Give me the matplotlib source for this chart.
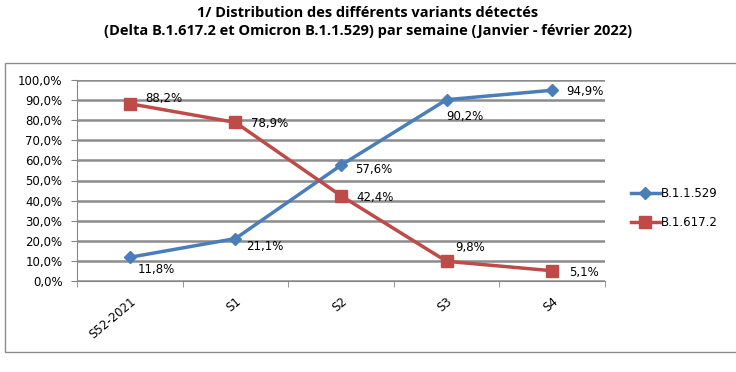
import numpy as np
import matplotlib
matplotlib.use("Agg")
import matplotlib.pyplot as plt
from matplotlib.patches import Rectangle

# Données
semaines = ["S52-2021", "S1", "S2", "S3", "S4"]
omicron = [11.8, 21.1, 57.6, 90.2, 94.9]
delta = [88.2, 78.9, 42.4, 9.8, 5.1]
nom_omicron = "B.1.1.529"
nom_delta = "B.1.617.2"
titre = ("1/ Distribution des différents variants détectés\n"
         "(Delta B.1.617.2 et Omicron B.1.1.529) par semaine (Janvier - février 2022)")

bleu = "#4a7ebb"
rouge = "#be4b48"

fig = plt.figure(figsize=(7.36, 3.72), dpi=100)
ax = fig.add_axes([77 / 736, 1 - 281 / 372, 528 / 736, 201 / 372])

x = np.arange(len(semaines))
ax.plot(x, omicron, color=bleu, lw=2.5, marker="D", ms=6.5, label=nom_omicron, zorder=3)
ax.plot(x, delta, color=rouge, lw=2.5, marker="s", ms=8.5, label=nom_delta, zorder=3)

ax.set_xlim(-0.5, len(semaines) - 0.5)
ax.set_ylim(0, 100)
ax.set_yticks(np.arange(0, 101, 10))
ax.set_yticklabels([f"{v:.1f}%".replace(".", ",") for v in np.arange(0, 101, 10)],
                   fontsize=8.5)
ax.set_xticks(x)
ax.set_xticklabels(semaines, rotation=40, ha="right", rotation_mode="anchor", fontsize=8.5)
ax.set_xticks(np.arange(-0.5, len(semaines)), minor=True)
ax.tick_params(axis="x", which="major", length=0, pad=10)
ax.tick_params(axis="x", which="minor", length=4.5, color="#868686")
ax.tick_params(axis="y", length=4.5, color="#868686", pad=6)

ax.grid(axis="y", color="#8c8c8c", lw=1.8)
ax.set_axisbelow(True)
for side in ["top", "right"]:
    ax.spines[side].set_visible(False)
for side in ["left", "bottom"]:
    ax.spines[side].set_color("#868686")

def fmt(v):
    return f"{v:.1f}%".replace(".", ",")

# étiquettes des points
decal_omicron = [(6, -9), (8, -6), (10, -3), (0, -12), (10, -1)]
decal_delta = [(11, 4), (11, -1), (11, -1), (6, 10), (12, -1)]
for i, (v, d) in enumerate(zip(omicron, decal_omicron)):
    ax.annotate(fmt(v), (x[i], v), xytext=d, textcoords="offset points",
                fontsize=8.5, ha="left", va="center")
for i, (v, d) in enumerate(zip(delta, decal_delta)):
    ax.annotate(fmt(v), (x[i], v), xytext=d, textcoords="offset points",
                fontsize=8.5, ha="left", va="center")

ax.legend(loc="center left", bbox_to_anchor=(620 / 736, 1 - 208 / 372),
          bbox_transform=fig.transFigure, frameon=False, fontsize=8.5,
          handlelength=2.5, handletextpad=0.1, labelspacing=1.3)

fig.text(0.5, 1 - 22 / 372, titre, ha="center", va="center", fontsize=10.5,
         fontweight="bold", family="Open Sans", linespacing=1.45)

fig.patches.append(Rectangle((5 / 736, 1 - 352 / 372), 740 / 736, 289 / 372,
                             transform=fig.transFigure, fill=False,
                             edgecolor="#8c8c8c", lw=1))

fig.savefig("out.png", dpi=100)
